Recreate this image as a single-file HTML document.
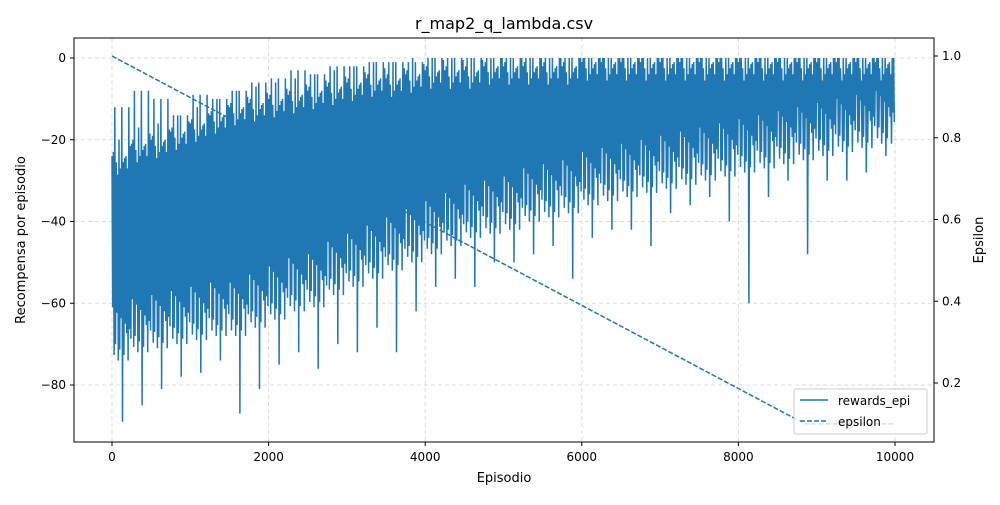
<!DOCTYPE html>
<html><head><meta charset="utf-8"><style>
body{margin:0;background:#fff;font-family:"Liberation Sans","DejaVu Sans",sans-serif}
svg text{font-family:"DejaVu Sans","Liberation Sans",sans-serif;font-size:12px;fill:#000}
</style></head><body>
<svg id="chart" width="1000" height="500" xmlns="http://www.w3.org/2000/svg">
<text x="504" y="29" text-anchor="middle" style="font-size:16px">r_map2_q_lambda.csv</text>
<g id="grid"></g><g id="marks"></g>
<rect x="74" y="38" width="860" height="404" fill="none" stroke="#000" stroke-width="1"/>
<g id="axes"></g>
<text x="504" y="482" text-anchor="middle" style="font-size:13px">Episodio</text>
<text transform="translate(25,240) rotate(-90)" text-anchor="middle" style="font-size:13px">Recompensa por episodio</text>
<text transform="translate(983,240) rotate(-90)" text-anchor="middle" style="font-size:13px">Epsilon</text>
<g>
<rect x="794" y="389" width="133" height="45" fill="#fff" fill-opacity="0.8" stroke="#ccc" rx="2"/>
<line x1="800" y1="400" x2="828" y2="400" stroke="#1f77b4" stroke-width="1.5"/>
<text x="838" y="405">rewards_epi</text>
<line x1="800" y1="421" x2="828" y2="421" stroke="#1f77b4" stroke-width="1.5" stroke-dasharray="5,2"/>
<text x="838" y="426">epsilon</text>
</g>
</svg>
<script>
// 40 bins of 250 episodes
const binStart=[0,250,500,750,1000,1250,1500,1750,2000,2250,2500,2750,3000,3250,3500,3750,4000,4250,4500,4750,5000,5250,5500,5750,6000,6250,6500,6750,7000,7250,7500,7750,8000,8250,8500,8750,9000,9250,9500,9750];
const spikeHi=[-12,-8,-10,-14,-9,-10,-8,-6,-5,-3,-4,-2,-2,-1,-1,-1,0,0,0,0,0,0,0,0,0,0,0,0,0,0,0,0,0,0,0,0,0,0,0,0];
const coreHi=[-24,-21,-20,-18,-16,-14,-12,-11,-10,-9,-8,-7,-6,-5,-5,-4,-3,-3,-3,-2,-2,-2,-2,-2,-1,-1,-1,-1,-1,-1,-1,-1,-1,-1,-1,-1,-1,-1,-1,-1];
const coreLo=[-66,-64,-63,-62,-61,-60,-60,-58,-56,-54,-53,-50,-48,-46,-44,-42,-40,-38,-36,-35,-34,-32,-31,-30,-28,-27,-26,-25,-24,-23,-22,-21,-20,-19,-18,-17,-16,-15,-14,-13];
const spikeLo=[-89,-85,-81,-78,-77,-74,-87,-81,-75,-72,-76,-70,-72,-66,-72,-62,-56,-54,-56,-50,-50,-48,-46,-54,-44,-42,-42,-46,-38,-36,-34,-40,-60,-34,-30,-48,-30,-30,-28,-24];
const epsEp=[0,8850,10000];
const epsVal=[1.0,0.1,0.1];
const xTicks=[0,2000,4000,6000,8000,10000];
const yTicks=[0,-20,-40,-60,-80];
const y2Ticks=[0.2,0.4,0.6,0.8,1.0];

const NS='http://www.w3.org/2000/svg';
const X=e=>112+e*(783/10000);
const Y=v=>58-v*4.0875;
const Y2=v=>56+(1-v)*408.75;
function mk(t,a,p){const el=document.createElementNS(NS,t);for(const k in a)el.setAttribute(k,a[k]);p.appendChild(el);return el;}
const grid=document.getElementById('grid'),axes=document.getElementById('axes'),marks=document.getElementById('marks');
xTicks.forEach(t=>{const x=X(t);
 const g=mk('line',{x1:x,x2:x,y1:38,y2:442,stroke:'#ddd','stroke-dasharray':'4,3'},grid);
 
 mk('line',{x1:x,x2:x,y1:442,y2:446,stroke:'#000'},axes);
 const tx=mk('text',{x:x,y:461,'text-anchor':'middle'},axes);tx.textContent=t;
 });
yTicks.forEach(t=>{const y=Y(t);
 const g=mk('line',{x1:74,x2:934,y1:y,y2:y,stroke:'#ddd','stroke-dasharray':'4,3'},grid);
 
 mk('line',{x1:70,x2:74,y1:y,y2:y,stroke:'#000'},axes);
 const tx=mk('text',{x:66,y:y+4,'text-anchor':'end'},axes);tx.textContent=t===0?'0':'\u2212'+Math.abs(t);
 });
y2Ticks.forEach(t=>{const y=Y2(t);
 mk('line',{x1:934,x2:938,y1:y,y2:y,stroke:'#000'},axes);
 const tx=mk('text',{x:942,y:y+4},axes);tx.textContent=t.toFixed(1);
 });
// rewards zigzag (jagged edges between core and spike envelopes)
let pts=[];const N=14;
binStart.forEach((b,i)=>{for(let k=0;k<N;k++){const e=b+k*250/N;
 const fh=((k*7)%5)/4, fl=((k*5)%7)/6;
 let hi=(k%5===2)?spikeHi[i]:Math.min(0,coreHi[i]-fh*6+ (k%4===1?4:0));
 let lo=(k===7)?spikeLo[i]:coreLo[i]-fl*8+(k%3===0?5:0);
 pts.push(X(e).toFixed(1)+','+Y(hi).toFixed(1));
 pts.push(X(e+250/N/2).toFixed(1)+','+Y(lo).toFixed(1));}});
const rl=mk('polyline',{points:pts.join(' '),fill:'none',stroke:'#1f77b4','stroke-width':1.5},marks);

const el=mk('polyline',{points:epsEp.map((e,i)=>X(e)+','+Y2(epsVal[i])).join(' '),fill:'none',stroke:'#1f77b4','stroke-width':1.5,'stroke-dasharray':'5,2'},marks);

</script>
</body></html>
